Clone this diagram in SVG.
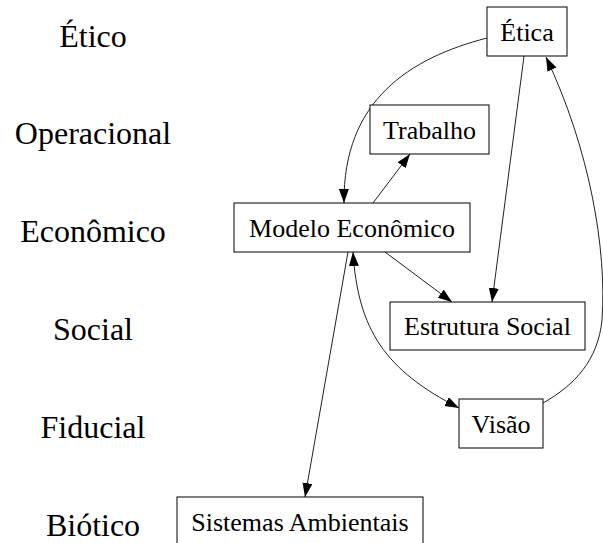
<svg xmlns="http://www.w3.org/2000/svg" width="603" height="543" viewBox="0 0 603 543">
<style>
.box{fill:#fff;stroke:#000;stroke-width:1}
.nt{font-size:26px;fill:#000;text-anchor:middle}
.lt{font-size:32px;fill:#000;text-anchor:middle}
.e{fill:none;stroke:#222;stroke-width:1}
</style>
<defs>
<marker id="ah" markerUnits="userSpaceOnUse" markerWidth="15" markerHeight="11" refX="14" refY="5" orient="auto-start-reverse">
<path d="M0,0 L14,5 L0,10 z" fill="#000"/>
</marker>
</defs>
<rect width="603" height="543" fill="#fff"/>
<g id="levels" font-family="Liberation Serif, DejaVu Serif, serif">
<text class="lt" x="93" y="47">Ético</text>
<text class="lt" x="93" y="144">Operacional</text>
<text class="lt" x="93" y="242">Econômico</text>
<text class="lt" x="93" y="340">Social</text>
<text class="lt" x="93" y="438">Fiducial</text>
<text class="lt" x="93" y="536">Biótico</text>
</g>
<g id="connectors">
<path class="e" d="M487,38 C410,58 343,100 344,203" marker-end="url(#ah)"/>
<path class="e" d="M373,203 L410,154" marker-end="url(#ah)"/>
<path class="e" d="M524,56 L492,302" marker-end="url(#ah)"/>
<path class="e" d="M385,252 L452,302" marker-end="url(#ah)"/>
<path class="e" d="M543,403 C575,385 598,360 602,320 C607,250 590,150 546,57" marker-end="url(#ah)"/>
<path class="e" d="M353,252 C358,330 385,370 459,408" marker-start="url(#ah)" marker-end="url(#ah)"/>
<path class="e" d="M348,252 L305,497" marker-end="url(#ah)"/>
</g>
<g font-family="Liberation Serif, DejaVu Serif, serif">
<g id="etica"><rect class="box" x="487" y="7" width="80" height="49"/><text class="nt" x="527" y="41">Ética</text></g>
<g id="trabalho"><rect class="box" x="370" y="105" width="119" height="49"/><text class="nt" x="429.5" y="139">Trabalho</text></g>
<g id="modelo"><rect class="box" x="234" y="203" width="236" height="49"/><text class="nt" x="352" y="237">Modelo Econômico</text></g>
<g id="estrutura"><rect class="box" x="390" y="302" width="195" height="48"/><text class="nt" x="487.5" y="335">Estrutura Social</text></g>
<g id="visao"><rect class="box" x="459" y="399" width="84" height="49"/><text class="nt" x="501" y="433">Visão</text></g>
<g id="sistemas"><rect class="box" x="177" y="497" width="246" height="49"/><text class="nt" x="300" y="531">Sistemas Ambientais</text></g>
</g>
</svg>
